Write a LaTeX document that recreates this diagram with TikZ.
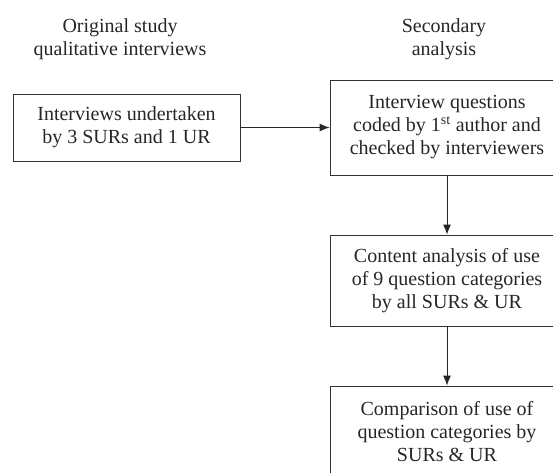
\documentclass[tikz,border=0pt]{standalone}
\usepackage{fontspec}
\setmainfont{Liberation Serif}
\usepackage{tikz}
\usetikzlibrary{arrows.meta}

\begin{document}
\begin{tikzpicture}[x=1pt,y=-1pt,
    every node/.style={font=\fontsize{20}{23}\selectfont, align=center, text=black!85},
    stepbox/.style={draw=black!80, line width=0.9pt, inner sep=0pt, minimum width=#1},
    flow/.style={draw=black!85, line width=0.9pt, -{Latex[length=10pt,width=8pt]}}]
    \useasboundingbox (0,0) rectangle (553,472);
    % headings
    \node (headorig) at (120,39) {Original study\\qualitative interviews};
    \node (headsec) at (444,39) {Secondary\\analysis};
    % boxes
    \node[stepbox=227, minimum height=67] (interviews) at (126.5,127.5) {Interviews undertaken\\by 3 SURs and 1 UR};
    \node[stepbox=234, minimum height=95] (coded) at (447,127.5) {Interview questions\\coded by 1\textsuperscript{st} author and\\checked by interviewers};
    \node[stepbox=234, minimum height=91] (content) at (447,280.5) {Content analysis of use\\of 9 question categories\\by all SURs \& UR};
    \node[stepbox=234, minimum height=91] (compare) at (447,431.5) {Comparison of use of\\question categories by\\SURs \& UR};
    % arrows
    \draw[flow] (interviews) -- (coded);
    \draw[flow] (coded) -- (content);
    \draw[flow] (content) -- (compare);
\end{tikzpicture}
\end{document}
